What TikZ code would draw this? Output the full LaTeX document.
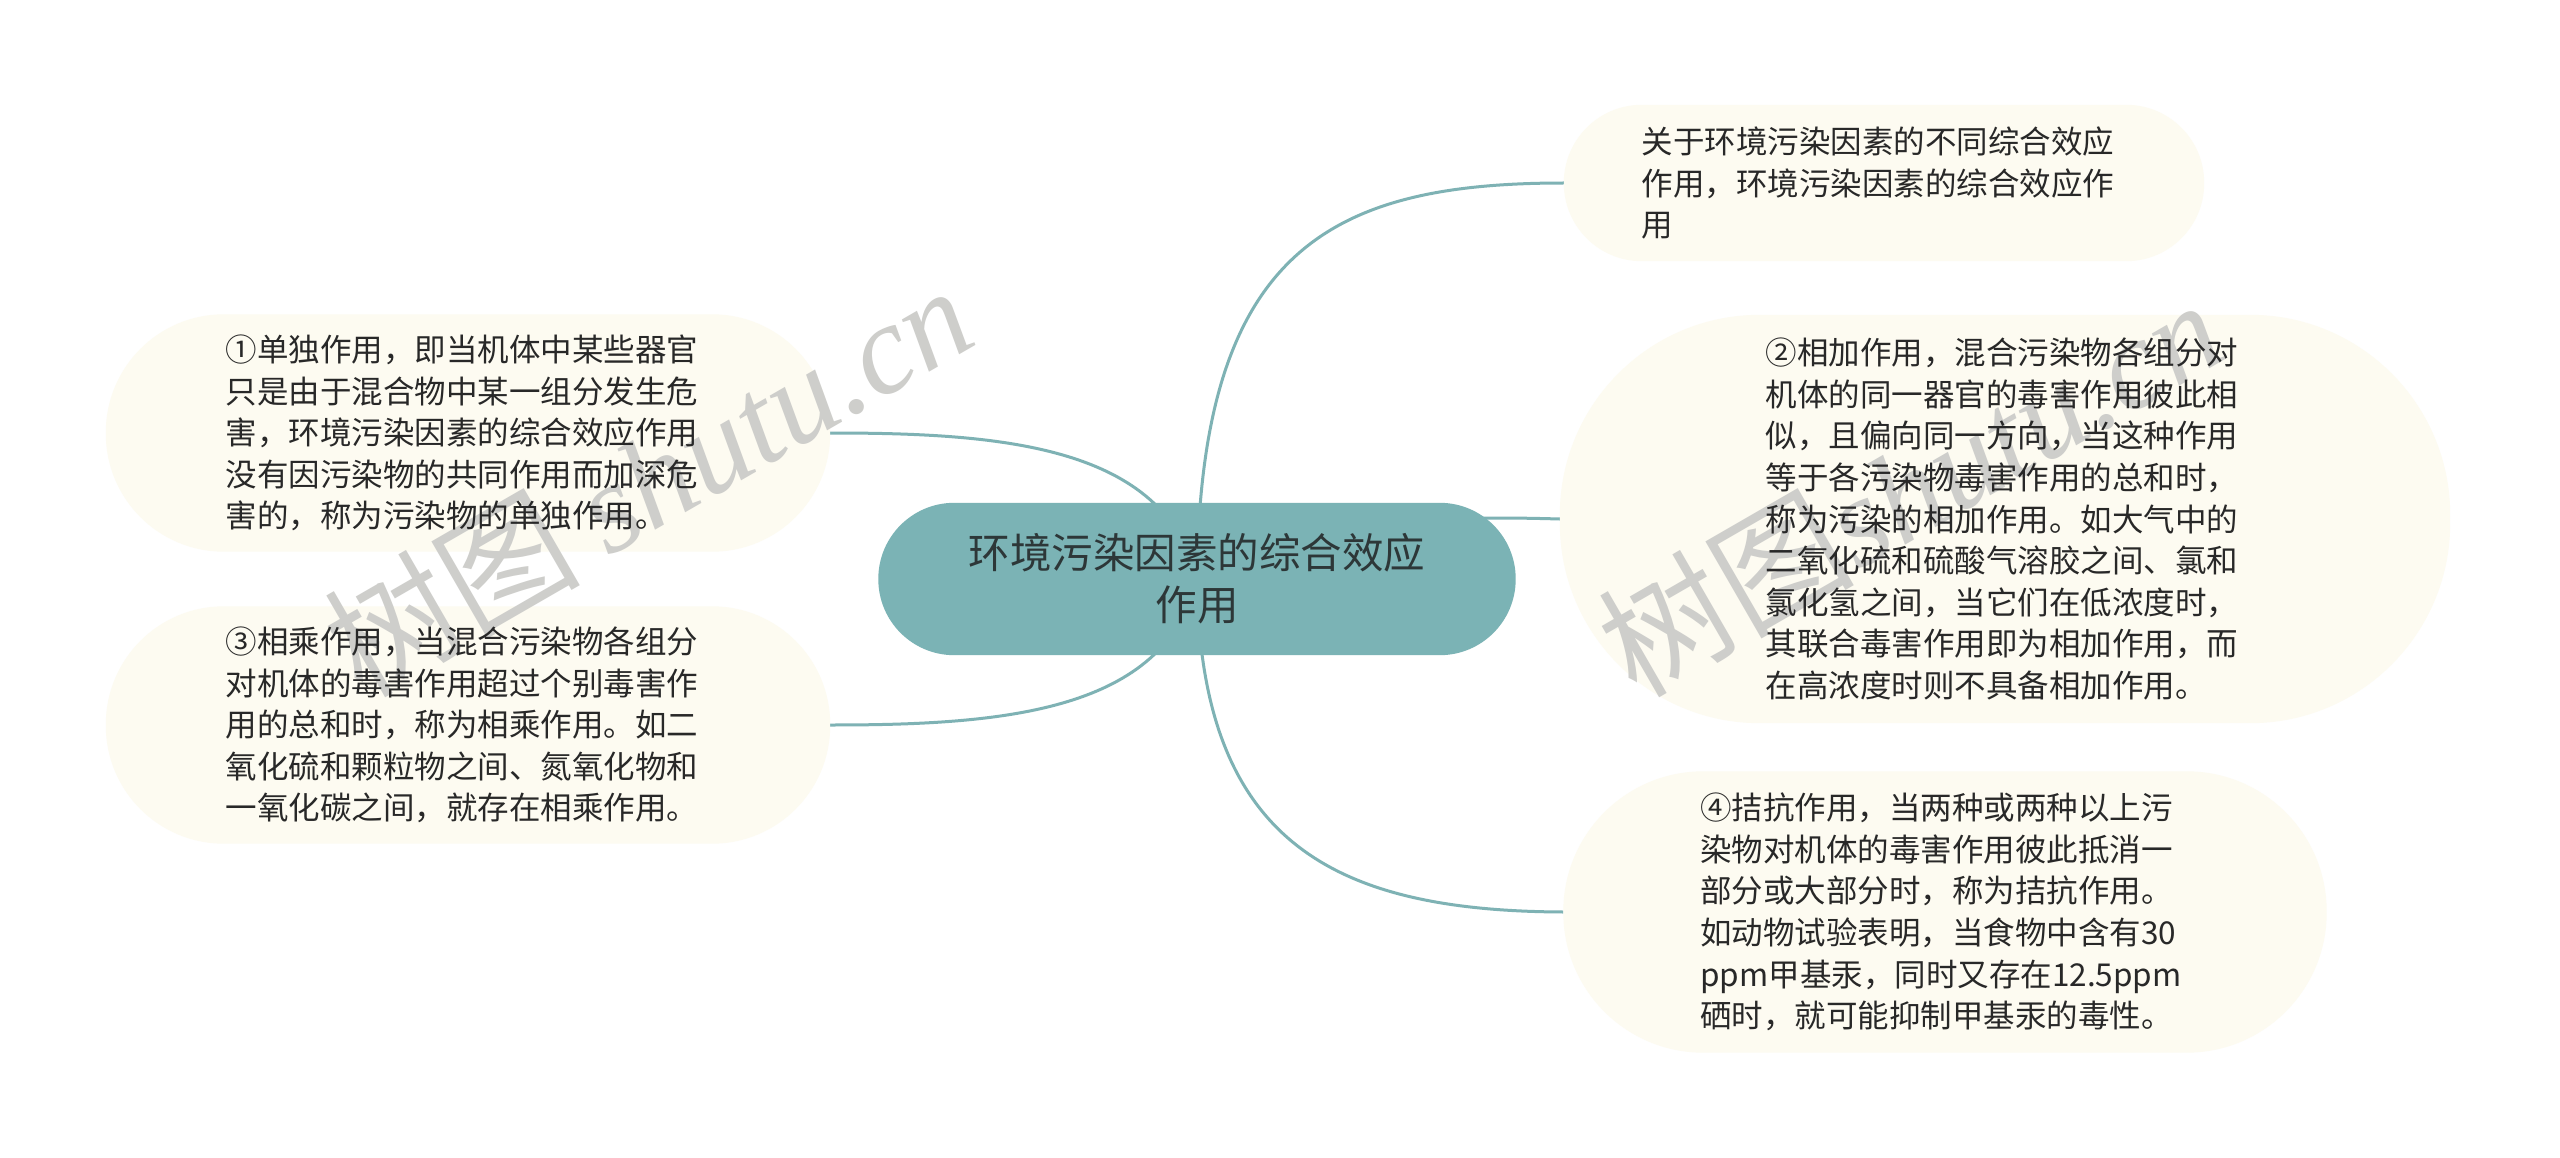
\documentclass[tikz,border=0pt]{standalone}
\usepackage{fontspec}
\setmainfont{Noto Sans CJK SC}
\newfontfamily\cjk{Noto Sans CJK SC}
\newfontfamily\wmserif{Liberation Serif}
\definecolor{cream}{RGB}{253,251,241}
\definecolor{teal}{RGB}{123,179,181}
\definecolor{conncol}{RGB}{126,178,180}
\definecolor{txtcol}{RGB}{40,40,40}
\definecolor{ctxt}{RGB}{45,55,56}
\definecolor{wmcol}{RGB}{206,206,203}
\pgfdeclarelayer{bg}
\pgfdeclarelayer{wm}
\pgfsetlayers{bg,wm,main}
\tikzset{
  txt/.style={inner sep=0pt, align=left, text=txtcol, font=\fontsize{31.5}{41.6}\selectfont},
  ctr/.style={inner sep=0pt, align=center, text=ctxt, font=\fontsize{41.5}{52}\selectfont},
  conn/.style={draw=conncol, line width=3pt},
  wmark/.style={text=wmcol, inner sep=0pt, anchor=base west, rotate=30, font=\fontsize{128}{128}\selectfont}
}
\begin{document}
\begin{tikzpicture}[x=1pt,y=-1pt]
\useasboundingbox (0,0) rectangle (2560,1158);

% nodes (text layer)
\node[ctr, minimum width=637pt, minimum height=152pt] (c) at (1197,579) {环境污染因素的综合效应\\作用};
\node[txt, minimum width=640pt, minimum height=156pt] (tr) at (1878,183) {关于环境污染因素的不同综合效应\\作用，环境污染因素的综合效应作\\用};
\node[txt, minimum width=890pt, minimum height=408pt] (r2) at (2002,519) {②相加作用，混合污染物各组分对\\机体的同一器官的毒害作用彼此相\\似，且偏向同一方向，当这种作用\\等于各污染物毒害作用的总和时，\\称为污染的相加作用。如大气中的\\二氧化硫和硫酸气溶胶之间、氯和\\氯化氢之间，当它们在低浓度时，\\其联合毒害作用即为相加作用，而\\在高浓度时则不具备相加作用。};
\node[txt, minimum width=763pt, minimum height=281pt] (r4) at (1941,912) {④拮抗作用，当两种或两种以上污\\染物对机体的毒害作用彼此抵消一\\部分或大部分时，称为拮抗作用。\\如动物试验表明，当食物中含有30\\ppm甲基汞，同时又存在12.5ppm\\硒时，就可能抑制甲基汞的毒性。};
\node[txt, minimum width=724pt, minimum height=237pt] (l1) at (462,433) {①单独作用，即当机体中某些器官\\只是由于混合物中某一组分发生危\\害，环境污染因素的综合效应作用\\没有因污染物的共同作用而加深危\\害的，称为污染物的单独作用。};
\node[txt, minimum width=724pt, minimum height=237pt] (l3) at (462,725) {③相乘作用，当混合污染物各组分\\对机体的毒害作用超过个别毒害作\\用的总和时，称为相乘作用。如二\\氧化硫和颗粒物之间、氮氧化物和\\一氧化碳之间，就存在相乘作用。};

\begin{pgfonlayer}{bg}
  \fill[white] (0,0) rectangle (2560,1158);
  % connectors
  \draw[conn] (c.center) .. controls (1200,250) and (1330,183) .. ([xshift=6pt]tr.west);
  \draw[conn] (c.center) .. controls (1350,516) and (1450,516) .. ([xshift=3pt]r2.west);
  \draw[conn] (c.center) .. controls (1200,840) and (1330,911) .. ([xshift=4pt]r4.west);
  \draw[conn] (c.center) .. controls (1165,445) and (1000,433) .. ([xshift=6pt]l1.east);
  \draw[conn] (c.center) .. controls (1165,713) and (1000,725) .. ([xshift=6pt]l3.east);
  % backgrounds (boxes shifted back to their measured places)
  \fill[cream, rounded corners=78pt] ([xshift=6pt]tr.north west) rectangle ([xshift=6pt]tr.south east);
  \fill[cream, rounded corners=200pt] ([xshift=3pt]r2.north west) rectangle ([xshift=3pt]r2.south east);
  \fill[cream, rounded corners=140pt] ([xshift=4pt]r4.north west) rectangle ([xshift=4pt]r4.south east);
  \fill[cream, rounded corners=118pt] ([xshift=6pt]l1.north west) rectangle ([xshift=6pt]l1.south east);
  \fill[cream, rounded corners=118pt] ([xshift=6pt]l3.north west) rectangle ([xshift=6pt]l3.south east);
  \fill[teal, rounded corners=76pt] (c.north west) rectangle (c.south east);
\end{pgfonlayer}

\begin{pgfonlayer}{wm}
  \node[wmark] (wm1) at (362,700) {\cjk 树图 \wmserif\itshape shutu.cn};
  \node[wmark] (wm2) at (1636,700) {\cjk 树图\wmserif\itshape shutu.cn};
\end{pgfonlayer}
\end{tikzpicture}
\end{document}
